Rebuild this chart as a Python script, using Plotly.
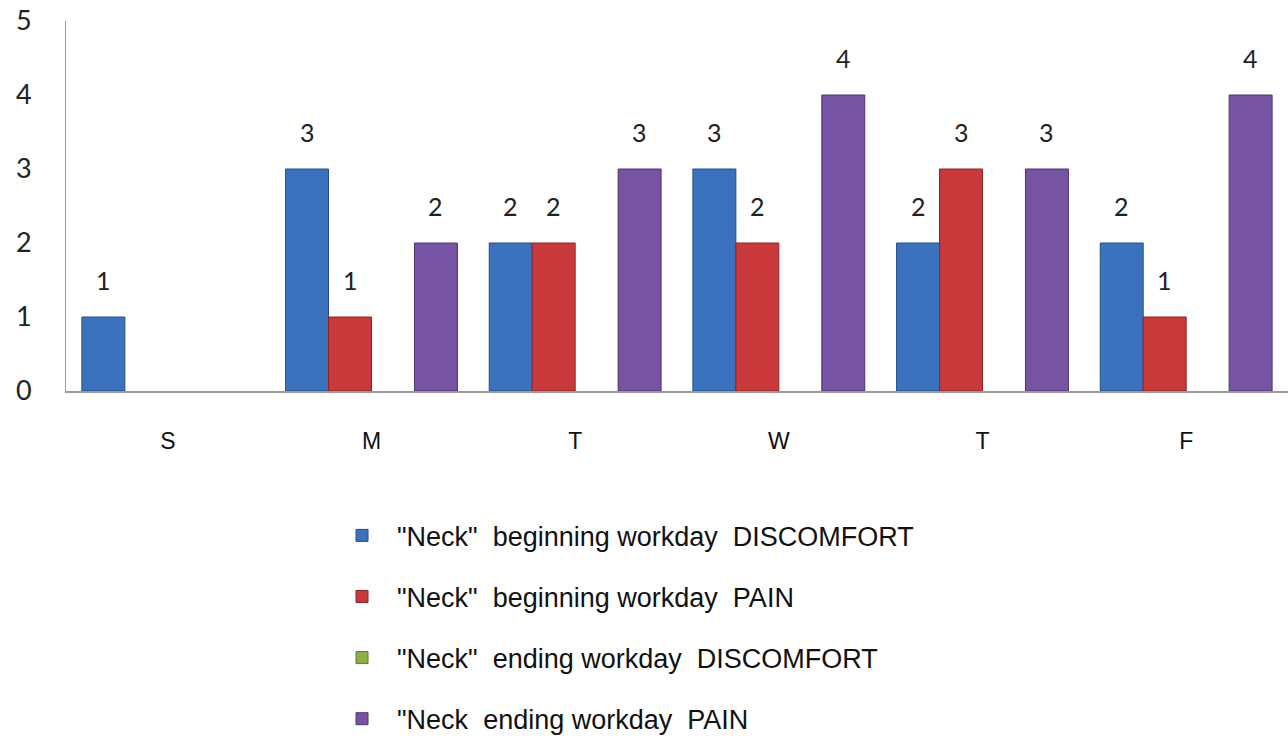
import plotly.graph_objects as go

# Days of the week and neck-complaint counts per series
days = ["S", "M", "T", "W", "T", "F"]
begin_discomfort = [1, 3, 2, 3, 2, 2]
begin_pain = [None, 1, 2, 2, 3, 1]
end_discomfort = [None, None, None, None, None, None]
end_pain = [None, 2, 3, 4, 3, 4]

series_names = [
    '"Neck"  beginning workday  DISCOMFORT',
    '"Neck"  beginning workday  PAIN',
    '"Neck"  ending workday  DISCOMFORT',
    '"Neck  ending workday  PAIN',
]
series_values = [begin_discomfort, begin_pain, end_discomfort, end_pain]
fill_colors = ["#3a72be", "#c9383a", "#8cb043", "#7653a3"]
edge_colors = ["#244f86", "#8e2324", "#5f7a2a", "#4f356f"]

BARGAP = 0.156
n_series = len(series_values)
bar_w = (1 - BARGAP) / n_series

xpos = list(range(len(days)))

fig = go.Figure()
for k, (name, vals) in enumerate(zip(series_names, series_values)):
    fig.add_trace(go.Bar(
        x=xpos, y=vals, name=name, legendgroup=f"g{k}",
        marker=dict(color=fill_colors[k], line=dict(color=edge_colors[k], width=1)),
    ))
    # value labels above each bar
    for i, v in enumerate(vals):
        if v is None:
            continue
        fig.add_annotation(
            x=i + (k - (n_series - 1) / 2) * bar_w, y=v, text=str(v),
            showarrow=False, yanchor="bottom", yshift=20,
            font=dict(family="Lato, Liberation Sans, sans-serif", size=25, color="#222"),
        )

fig.update_layout(
    width=1288, height=740,
    margin=dict(l=66, r=0, t=21, b=349, autoexpand=False),
    paper_bgcolor="white", plot_bgcolor="white",
    barmode="group", bargap=BARGAP, bargroupgap=0,
    showlegend=True,
    legend=dict(
        orientation="v", x=0.2539, xref="container", xanchor="left",
        y=0.309, yref="container", yanchor="top",
        traceorder="grouped", tracegroupgap=23,
        font=dict(family="Liberation Sans, Arial, sans-serif", size=27, color="#111"),
        itemwidth=60,
    ),
    xaxis=dict(
        tickmode="array", tickvals=xpos, ticktext=days,
        range=[-0.5, len(days) - 0.5],
        showline=True, linecolor="#9a9a9a", linewidth=2,
        showgrid=False, zeroline=False, ticks="",
        ticklabelstandoff=28,
        tickfont=dict(family="Liberation Sans, Arial, sans-serif", size=23, color="#111"),
    ),
    yaxis=dict(
        range=[0, 5], dtick=1,
        showline=True, linecolor="#9a9a9a", linewidth=1,
        showgrid=False, zeroline=False, ticks="",
        ticklabelstandoff=28,
        tickfont=dict(family="Lato, Liberation Sans, sans-serif", size=27, color="#222"),
    ),
)

fig.write_html("out.html")
